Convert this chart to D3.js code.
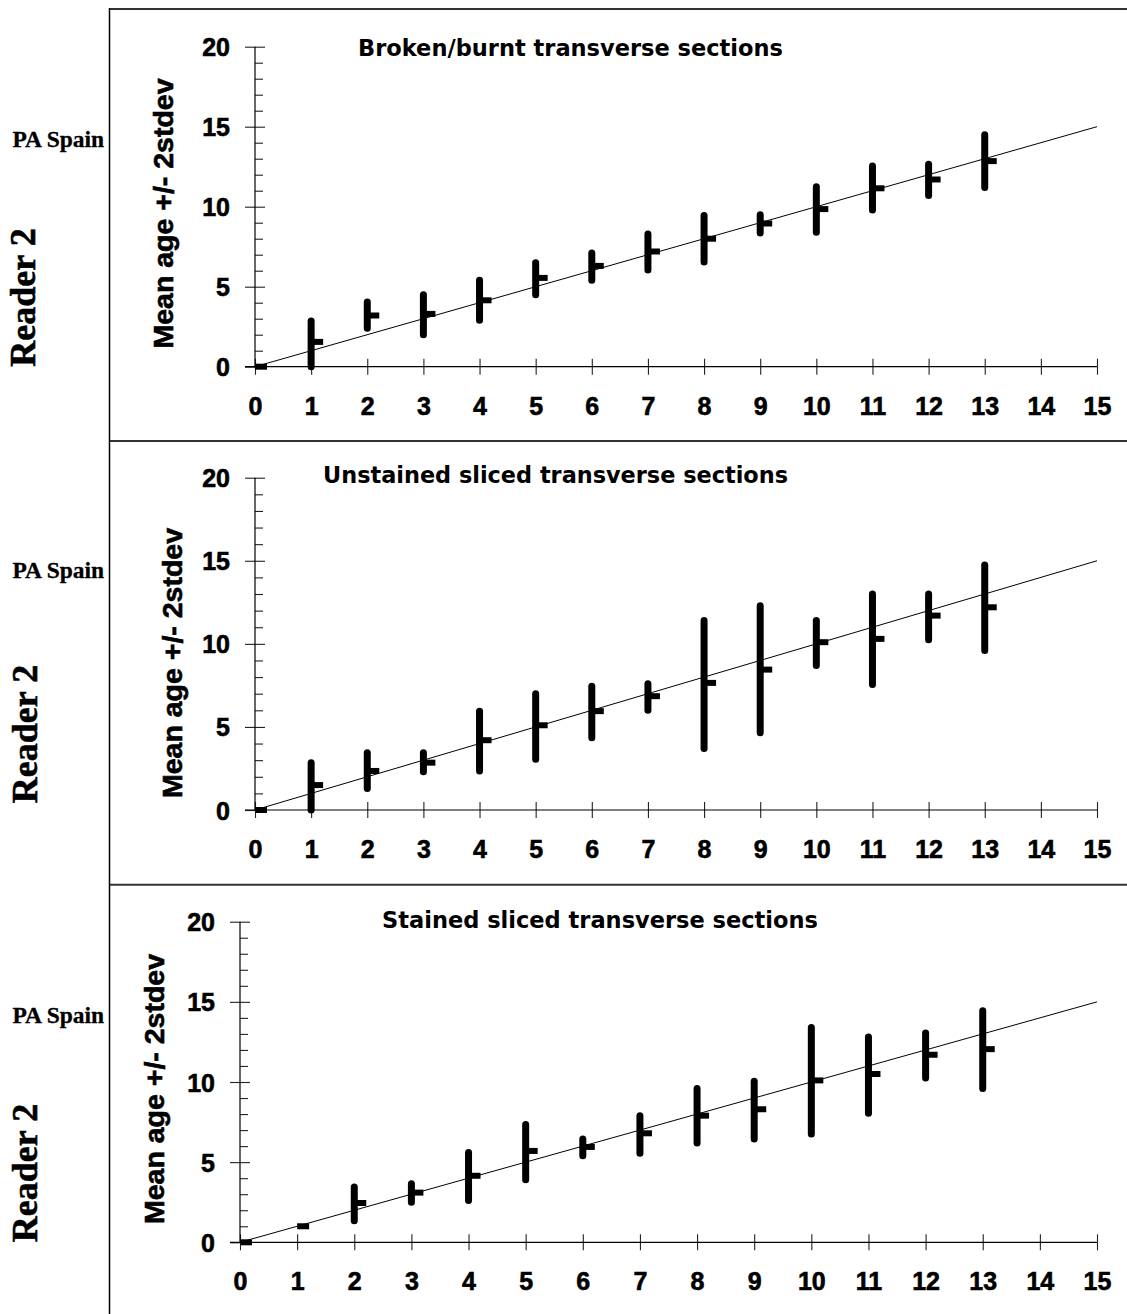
<!DOCTYPE html>
<html>
<head>
<meta charset="utf-8">
<script src="https://cdn.jsdelivr.net/npm/d3@7"></script>
<style>
  html, body { margin: 0; padding: 0; background: #fff; }
  svg { display: block; }
</style>
</head>
<body>
<svg id="chart" width="1127" height="1314"></svg>
<script>
// ---------------- DATA ----------------
const ages = [0, 1, 2, 3, 4, 5, 6, 7, 8, 9, 10, 11, 12, 13];
const xTicks = [0, 1, 2, 3, 4, 5, 6, 7, 8, 9, 10, 11, 12, 13, 14, 15];
const yTicksMajor = [0, 5, 10, 15, 20];
const yTicksMinor = [1, 2, 3, 4, 6, 7, 8, 9, 11, 12, 13, 14, 16, 17, 18, 19];

const panelTitles = [
  "Broken/burnt transverse sections",
  "Unstained sliced transverse sections",
  "Stained sliced transverse sections"
];
const yAxisTitle = "Mean age +/- 2stdev";
const readerLabel = "Reader 2";
const labLabel = "PA Spain";

// Broken/burnt transverse sections
const brokenMean = [0, 1.55, 3.2, 3.3, 4.15, 5.55, 6.3, 7.2, 8.0, 8.95, 9.85, 11.15, 11.7, 12.85];
const brokenLow  = [0, 0,    2.4, 2.0, 2.9,  4.5,  5.4, 6.05, 6.55, 8.35, 8.4, 9.8, 10.7, 11.2];
const brokenHigh = [0, 2.85, 4.05, 4.5, 5.4, 6.5,  7.1, 8.3, 9.45, 9.5, 11.25, 12.55, 12.65, 14.5];

// Unstained sliced transverse sections
const unstainedMean = [0, 1.5, 2.35, 2.85, 4.2, 5.1, 5.95, 6.85, 7.65, 8.45, 10.1, 10.3, 11.7, 12.2];
const unstainedLow  = [0, 0,   1.3,  2.3,  2.35, 3.05, 4.35, 6.0, 3.7, 4.65, 8.7, 7.55, 10.25, 9.6];
const unstainedHigh = [0, 2.85, 3.45, 3.45, 5.95, 7.0, 7.45, 7.6, 11.4, 12.3, 11.4, 13.0, 13.0, 14.75];

// Stained sliced transverse sections
const stainedMean = [0, 1.0, 2.45, 3.1, 4.15, 5.7, 5.95, 6.8, 7.9, 8.3, 10.1, 10.5, 11.7, 12.05];
const stainedLow  = [0, 1.0, 1.35, 2.5, 2.6,  3.9, 5.4,  5.55, 6.2, 6.45, 6.75, 8.05, 10.25, 9.6];
const stainedHigh = [0, 1.0, 3.45, 3.65, 5.6, 7.35, 6.45, 7.9, 9.6, 10.05, 13.4, 12.8, 13.05, 14.45];

const refLine = [0, 15]; // 1:1 line endpoints (age = mean age)

// ---------------- LAYOUT ----------------
const layouts = [
  { x0: 255, x1: 1097, yb: 366.7, yt: 46.7,
    titleX: 358, titleY: 55.7, titleW: 425,
    yTitleX: 173, yTitleY: 213.5,
    readerX: 35, readerY: 297.5, labY: 146.7 },
  { x0: 255, x1: 1097, yb: 810, yt: 477.7,
    titleX: 323, titleY: 483, titleW: 465,
    yTitleX: 181.5, yTitleY: 663,
    readerX: 36.5, readerY: 734, labY: 578.3 },
  { x0: 240, x1: 1097, yb: 1242.3, yt: 921.7,
    titleX: 382, titleY: 928.3, titleW: 436,
    yTitleX: 164, yTitleY: 1089,
    readerX: 36.5, readerY: 1173, labY: 1023.3 }
];

const series = [
  { mean: brokenMean, low: brokenLow, high: brokenHigh },
  { mean: unstainedMean, low: unstainedLow, high: unstainedHigh },
  { mean: stainedMean, low: stainedLow, high: stainedHigh }
];

const svg = d3.select("#chart");
const SANS = "'Liberation Sans', Arial, Helvetica, sans-serif";
const TITLE = "'DejaVu Sans', Verdana, Tahoma, sans-serif";
const SERIF = "'Liberation Serif', 'Times New Roman', serif";

// Frame lines
const frame = svg.append("g").attr("stroke", "#333").attr("stroke-width", 2);
frame.append("line").attr("x1", 109.5).attr("x2", 1127).attr("y1", 9).attr("y2", 9);
frame.append("line").attr("x1", 109.5).attr("x2", 1127).attr("y1", 441).attr("y2", 441);
frame.append("line").attr("x1", 109.5).attr("x2", 1127).attr("y1", 884.7).attr("y2", 884.7);
frame.append("line").attr("x1", 109.5).attr("x2", 109.5).attr("y1", 8).attr("y2", 1314)
  .attr("stroke-width", 1.5).attr("stroke", "#000");

layouts.forEach((L, i) => {
  const d = series[i];
  const x = d3.scaleLinear().domain([0, 15]).range([L.x0, L.x1]);
  const y = d3.scaleLinear().domain([0, 20]).range([L.yb, L.yt]);
  const g = svg.append("g");

  // Y axis: major ticks outward with labels
  const yAxisL = g.append("g").attr("transform", `translate(${x(0)},0)`)
    .call(d3.axisLeft(y).tickValues(yTicksMajor).tickSize(10).tickPadding(15).tickFormat(d3.format("d")));
  // major ticks inward
  const yAxisRMaj = g.append("g").attr("transform", `translate(${x(0)},0)`)
    .call(d3.axisRight(y).tickValues(yTicksMajor).tickSize(10).tickFormat(""));
  // minor ticks inward
  const yAxisRMin = g.append("g").attr("transform", `translate(${x(0)},0)`)
    .call(d3.axisRight(y).tickValues(yTicksMinor).tickSize(8).tickFormat(""));

  // X axis ticks crossing
  const xAxisB = g.append("g").attr("transform", `translate(0,${y(0)})`)
    .call(d3.axisBottom(x).tickValues(xTicks).tickSize(8).tickFormat(d3.format("d")));
  const xAxisT = g.append("g").attr("transform", `translate(0,${y(0)})`)
    .call(d3.axisTop(x).tickValues(xTicks).tickSize(8).tickFormat(""));

  [yAxisL, yAxisRMaj, yAxisRMin, xAxisB, xAxisT].forEach(a => {
    a.select(".domain").remove();
    a.selectAll(".tick line").attr("stroke", "#222").attr("stroke-width", 1.1);
    a.selectAll("text").attr("font-family", SANS).attr("font-weight", "bold")
      .attr("font-size", 25).attr("fill", "#000")
      .attr("stroke", "#000").attr("stroke-width", 0.6);
  });
  xAxisB.selectAll("text").attr("y", 48).attr("dy", 0);
  yAxisL.selectAll("text").attr("dy", "0.36em");

  // axis lines
  g.append("line").attr("x1", x(0)).attr("x2", x(0)).attr("y1", y(0)).attr("y2", y(20))
    .attr("stroke", "#000").attr("stroke-width", 1.2);
  g.append("line").attr("x1", x(0) - 10).attr("x2", x(15)).attr("y1", y(0)).attr("y2", y(0))
    .attr("stroke", "#000").attr("stroke-width", 1.2);

  // 1:1 reference line
  g.append("line")
    .attr("x1", x(refLine[0])).attr("y1", y(refLine[0]))
    .attr("x2", x(refLine[1])).attr("y2", y(refLine[1]))
    .attr("stroke", "#000").attr("stroke-width", 1);

  // Error bars (mean +/- 2 stdev)
  const rows = ages.map((a, k) => ({ age: a, mean: d.mean[k], low: d.low[k], high: d.high[k] }));
  g.selectAll(".bar").data(rows.filter(r => r.high > r.low)).join("line")
    .attr("class", "bar")
    .attr("x1", r => x(r.age)).attr("x2", r => x(r.age))
    .attr("y1", r => y(r.low)).attr("y2", r => y(r.high))
    .attr("stroke", "#000").attr("stroke-width", 7).attr("stroke-linecap", "round");
  // Mean markers
  g.selectAll(".mean").data(rows).join("line")
    .attr("class", "mean")
    .attr("x1", r => x(r.age)).attr("x2", r => x(r.age) + 12)
    .attr("y1", r => y(r.mean)).attr("y2", r => y(r.mean))
    .attr("stroke", "#000").attr("stroke-width", 6);

  // Panel title
  g.append("text").attr("x", L.titleX).attr("y", L.titleY)
    .attr("font-family", TITLE).attr("font-weight", "bold").attr("font-size", 22.5)
    .attr("textLength", L.titleW).attr("lengthAdjust", "spacingAndGlyphs")
    .text(panelTitles[i]);

  // Y axis title
  g.append("text")
    .attr("transform", `translate(${L.yTitleX},${L.yTitleY}) rotate(-90)`)
    .attr("text-anchor", "middle")
    .attr("font-family", SANS).attr("font-weight", "bold").attr("font-size", 28.5)
    .attr("stroke", "#000").attr("stroke-width", 0.6)
    .text(yAxisTitle);

  // Reader label
  g.append("text")
    .attr("transform", `translate(${L.readerX},${L.readerY}) rotate(-90)`)
    .attr("text-anchor", "middle")
    .attr("font-family", SERIF).attr("font-weight", "bold").attr("font-size", 36)
    .attr("stroke", "#000").attr("stroke-width", 0.6)
    .text(readerLabel);

  // Lab label
  g.append("text").attr("x", 12.5).attr("y", L.labY)
    .attr("font-family", SERIF).attr("font-weight", "bold").attr("font-size", 23.5)
    .attr("stroke", "#000").attr("stroke-width", 0.3)
    .text(labLabel);
});
</script>
</body>
</html>
